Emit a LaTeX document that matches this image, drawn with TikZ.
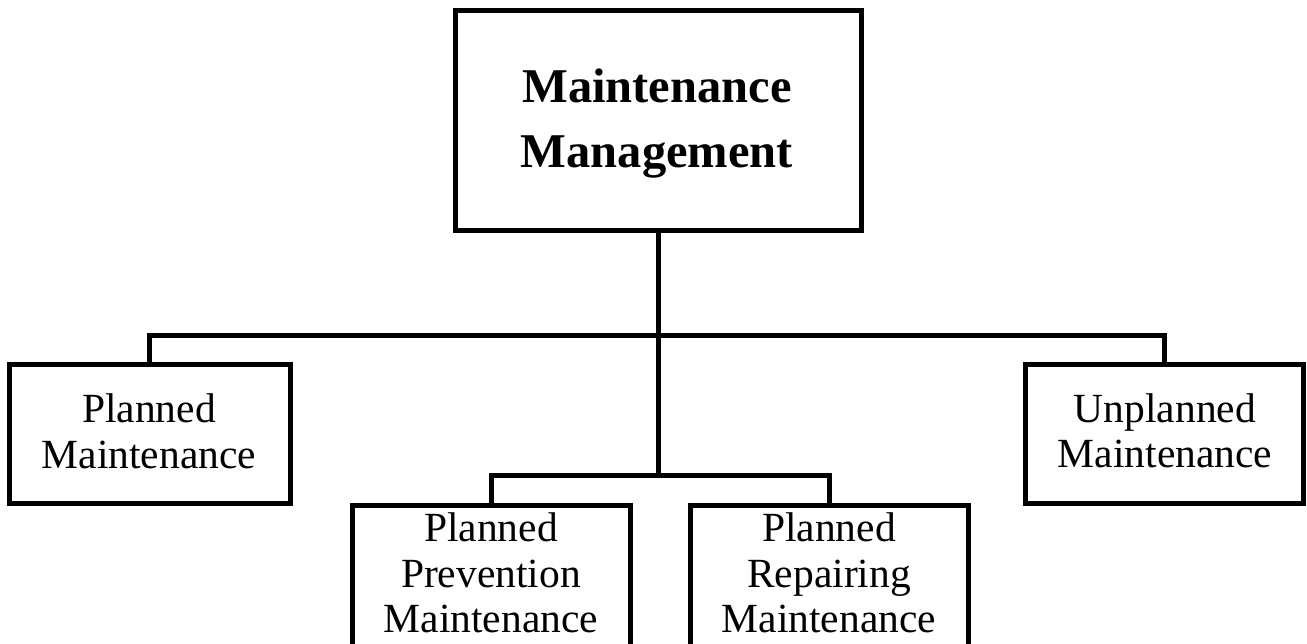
\documentclass[tikz,border=0pt]{standalone}
\usepackage{fontspec}
\setmainfont{Liberation Serif}
\begin{document}
\begin{tikzpicture}[x=1pt,y=-1pt,
  box/.style={draw=black,line width=5pt,rectangle,inner sep=0pt,fill=none},
  lbl/.style={inner sep=0pt,align=center,font=\fontsize{41.5}{45.5}\selectfont},
  toplbl/.style={inner sep=0pt,align=center,font=\fontsize{48.5}{65}\selectfont\bfseries},
  link/.style={draw=black,line width=5pt}]
\useasboundingbox (0,0) rectangle (1307,643);
\clip (0,0) rectangle (1307,643);
% boxes
\node[box,minimum width=406pt,minimum height=220pt] (top) at (658,120) {};
\node[box,minimum width=281pt,minimum height=139pt] (pm) at (149.5,433.5) {};
\node[box,minimum width=278pt,minimum height=139pt] (um) at (1164,433.5) {};
\node[box,minimum width=278pt,minimum height=170pt] (ppm) at (491,590) {};
\node[box,minimum width=278pt,minimum height=170pt] (prm) at (829,590) {};
% texts
\node[toplbl] (toptxt) at (657,124) {Maintenance\\Management};
\node[lbl] (pmtxt) at (149,431.5) {Planned\\Maintenance};
\node[lbl] (umtxt) at (1165,431) {Unplanned\\Maintenance};
\node[lbl] (ppmtxt) at (491,573) {Planned\\Prevention\\Maintenance};
\node[lbl] (prmtxt) at (829,573) {Planned\\Repairing\\Maintenance};
% connectors
\coordinate (j1) at (658,335);
\coordinate (j2) at (658,475);
\draw[link] (top.south) -- (j2);
\draw[link] (pm.north) |- (j1) -| (um.north);
\draw[link] (ppm.north) |- (j2) -| (prm.north);
\end{tikzpicture}
\end{document}
